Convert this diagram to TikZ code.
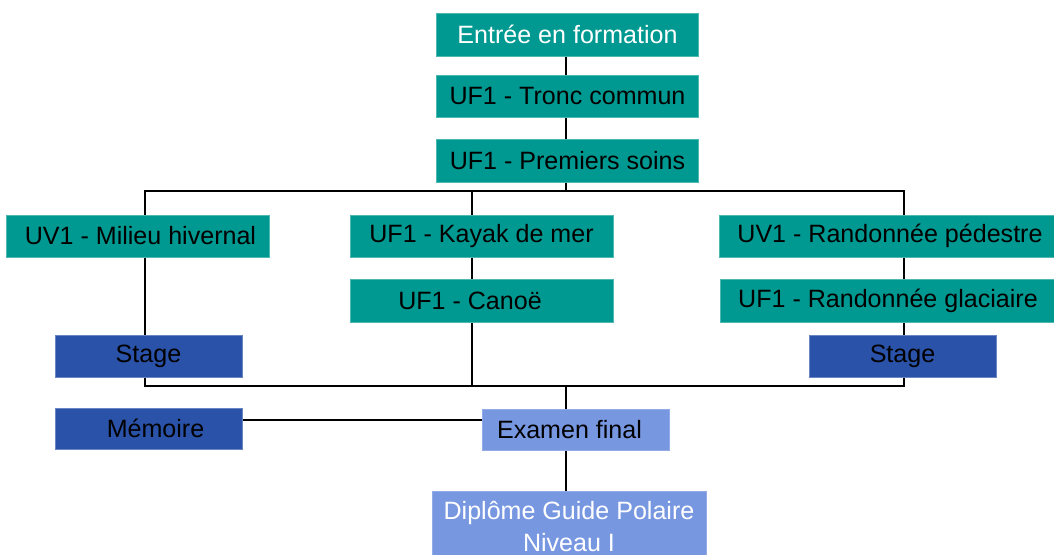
\documentclass[tikz,border=0pt]{standalone}
\usepackage{fontspec}
\setmainfont{Liberation Sans}
\usetikzlibrary{backgrounds}

\definecolor{ufteal}{RGB}{0,153,145}
\definecolor{stageblue}{RGB}{42,82,168}
\definecolor{examblue}{RGB}{120,151,225}

\tikzset{every picture/.style={line width=0.75pt}}
\tikzset{
  box/.style={rectangle, inner sep=0pt, minimum height=42*0.75pt, font=\fontsize{18.8}{23}\selectfont, align=center},
  ufbox/.style={box, fill=ufteal, draw=ufteal!70!white, line width=0.4pt, text=black},
  stagebox/.style={box, fill=stageblue, draw=stageblue!70!white, line width=0.4pt, text=black, minimum width=187*0.75pt},
  exambox/.style={box, fill=examblue, draw=examblue!80!white, line width=0.4pt, text=black, minimum width=187*0.75pt},
  bus/.style={draw=black, line width=2.2pt},
}

\begin{document}
\begin{tikzpicture}[x=0.75pt,y=0.75pt,yscale=-1,xscale=1]
\useasboundingbox (0,0) rectangle (1054,555);

% Text Node
\node [ufbox, minimum width=262*0.75pt, text=white, minimum height=43*0.75pt] (entree) at (567.5,34.5) {Entrée en formation};
% Text Node
\node [ufbox, minimum width=262*0.75pt] (tronc) at (567.5,96) {UF1 - Tronc commun};
% Text Node
\node [ufbox, minimum width=262*0.75pt, minimum height=43*0.75pt] (premiers) at (567.5,160.5) {UF1 - Premiers soins};
% Text Node
\node [ufbox, minimum width=263*0.75pt] (milieu) at (137.5,236) {\hspace*{4.5pt}UV1 - Milieu hivernal};
% Text Node
\node [ufbox, minimum width=263*0.75pt] (kayak) at (481.5,236) {UF1 - Kayak de mer};
% Text Node
\node [ufbox, minimum width=263*0.75pt, minimum height=43*0.75pt] (canoe) at (481.5,300.5) {UF1 - Canoë\hspace*{17.25pt}};
% Text Node
\node [ufbox, minimum width=336*0.75pt] (pedestre) at (887,236) {\hspace*{4.5pt}UV1 - Randonnée pédestre};
% Text Node
\node [ufbox, minimum width=336*0.75pt, minimum height=43*0.75pt] (glaciaire) at (888,300.5) {UF1 - Randonnée glaciaire};
% Text Node
\node [stagebox] (stageL) at (148.5,356) {Stage};
% Text Node
\node [stagebox] (stageR) at (902.5,356) {Stage};
% Text Node
\node [stagebox, minimum height=41*0.75pt] (memoire) at (148.5,428.5) {\hspace*{10.5pt}Mémoire};
% Text Node
\node [exambox, minimum height=41*0.75pt] (examen) at (575.5,429.5) {Examen final\hspace*{9pt}};
% Text Node
\node [exambox, minimum width=274*0.75pt, minimum height=70*0.75pt, text=white, font=\fontsize{18.8}{24}\selectfont] (diplome) at (569,526) {Diplôme Guide Polaire\\Niveau I};

\coordinate (busTL) at (145,191);
\coordinate (busBR) at (904,386);
\coordinate (midT) at (472,191);
\coordinate (midB) at (472,386);
\coordinate (trunkT) at (566,191);
\coordinate (trunkB) at (566,386);
\coordinate (memoLine) at (242,420);

\begin{pgfonlayer}{background}
%Straight Lines
\draw [bus] (entree.south -| trunkT) -- (tronc.north -| trunkT);
\draw [bus] (tronc.south -| trunkT) -- (premiers.north -| trunkT);
\draw [bus] (premiers.south -| trunkT) -- (trunkT);
%Shape: Rectangle
\draw [bus] (busTL) rectangle (busBR);
%Straight Lines
\draw [bus] (midT) -- (midB);
\draw [bus] (trunkB) -- (diplome.north -| trunkB);
\draw [line width=1.5pt] (memoire.east |- memoLine) -- (examen.west |- memoLine);
\end{pgfonlayer}

\end{tikzpicture}
\end{document}
